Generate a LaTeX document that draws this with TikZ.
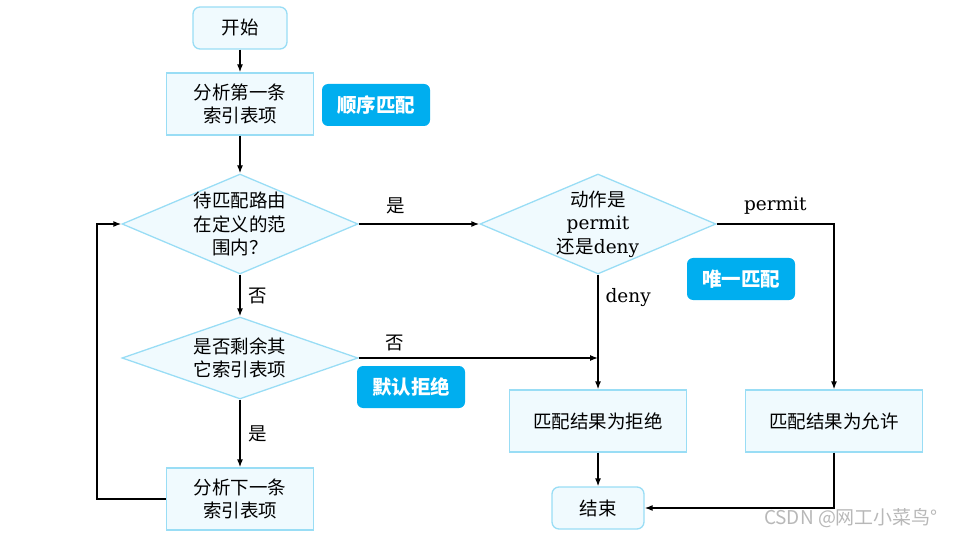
\documentclass[tikz,border=0pt]{standalone}
\usepackage{fontspec}
\setmainfont{DejaVu Serif}
\newfontfamily\cjk{Noto Sans CJK SC}
\newfontfamily\lat{DejaVu Serif}
\usetikzlibrary{shapes.geometric,arrows.meta}
\definecolor{boxfill}{RGB}{240,250,254}
\definecolor{boxline}{RGB}{153,221,245}
\definecolor{badgeblue}{RGB}{0,174,239}
\newcommand{\txt}{\fontsize{18.5}{23.5}\selectfont}
\tikzset{
  proc/.style={draw=boxline,fill=boxfill,line width=1.3pt,minimum width=147pt,minimum height=62pt,
    align=center,inner sep=0pt,font=\cjk\txt},
  term/.style={proc,rounded corners=7pt,minimum width=94pt,minimum height=42pt},
  decision/.style={diamond,draw=boxline,fill=boxfill,line width=1.3pt,minimum width=236pt,
    minimum height=100pt,inner sep=0pt},
  dtext/.style={align=center,font=\cjk\txt,inner sep=0pt},
  badge/.style={fill=badgeblue,text=white,rounded corners=6pt,minimum width=108pt,minimum height=42pt,
    font=\cjk\bfseries\fontsize{19.5}{22}\selectfont},
  flow/.style={line width=1.3pt,-{Latex[length=8pt,width=6pt]}},
  lbl/.style={font=\cjk\txt,inner sep=5pt}
}

\begin{document}
\begin{tikzpicture}[x=1pt,y=-1pt]
\useasboundingbox (0,0) rectangle (955,537);
\node[term] (start) at (240,28) {开始};
\node[proc] (first) at (240,104) {分析第一条\\索引表项};
\node[badge] (seq) at (376,105) {顺序匹配};
\node[decision] (inrange) at (240,224) {};
\node[dtext] (inrangetxt) at (inrange) {待匹配路由\\在定义的范\\围内？};
\node[decision] (action) at (598,224) {};
\node[dtext] (actiontxt) at (action) {动作是\\{\lat permit}\\还是{\lat deny}};
\node[badge] (uniq) at (741,279) {唯一匹配};
\node[decision,minimum height=82pt] (more) at (240,358) {};
\node[dtext] (moretxt) at (more) {是否剩余其\\它索引表项};
\node[badge] (dflt) at (411,387) {默认拒绝};
\node[proc] (next) at (240,499) {分析下一条\\索引表项};
\node[proc,minimum width=177pt] (deny) at (598,421) {匹配结果为拒绝};
\node[proc,minimum width=177pt] (permit) at (834,421) {匹配结果为允许};
\node[term,minimum width=92pt] (stop) at (598,508) {结束};
\coordinate (join) at (action.south |- more.east);

% main flow
\draw[flow] (start) -- (first);
\draw[flow] (first) -- (inrange);
\draw[flow] (inrange) -- node[lbl,above,pos=0.31,yshift=4pt]{是} (action);
\draw[flow] (inrange) -- node[lbl,right,xshift=3pt]{否} (more);
\draw[flow] (more) -- node[lbl,right,xshift=3pt]{是} (next);
\draw[flow] (next.west) -- ++(-69,0) |- (inrange.west);
\draw[flow] (more.east) -- node[lbl,above,pos=0.15,yshift=1pt]{否} (join);
\draw[flow] (action.south) -- node[lbl,right,pos=0.2,font=\lat\txt,xshift=2pt]{deny} (deny);
\draw[flow] (action.east) -| node[lbl,above,pos=0.25,font=\lat\txt,yshift=4pt]{permit} (permit);
\draw[flow] (deny) -- (stop);
\draw[flow] (permit) |- (stop);

\node[font=\cjk\fontsize{19}{21}\selectfont,text=black!28] (mark) at (851,518) {CSDN @网工小菜鸟°};
\end{tikzpicture}
\end{document}
